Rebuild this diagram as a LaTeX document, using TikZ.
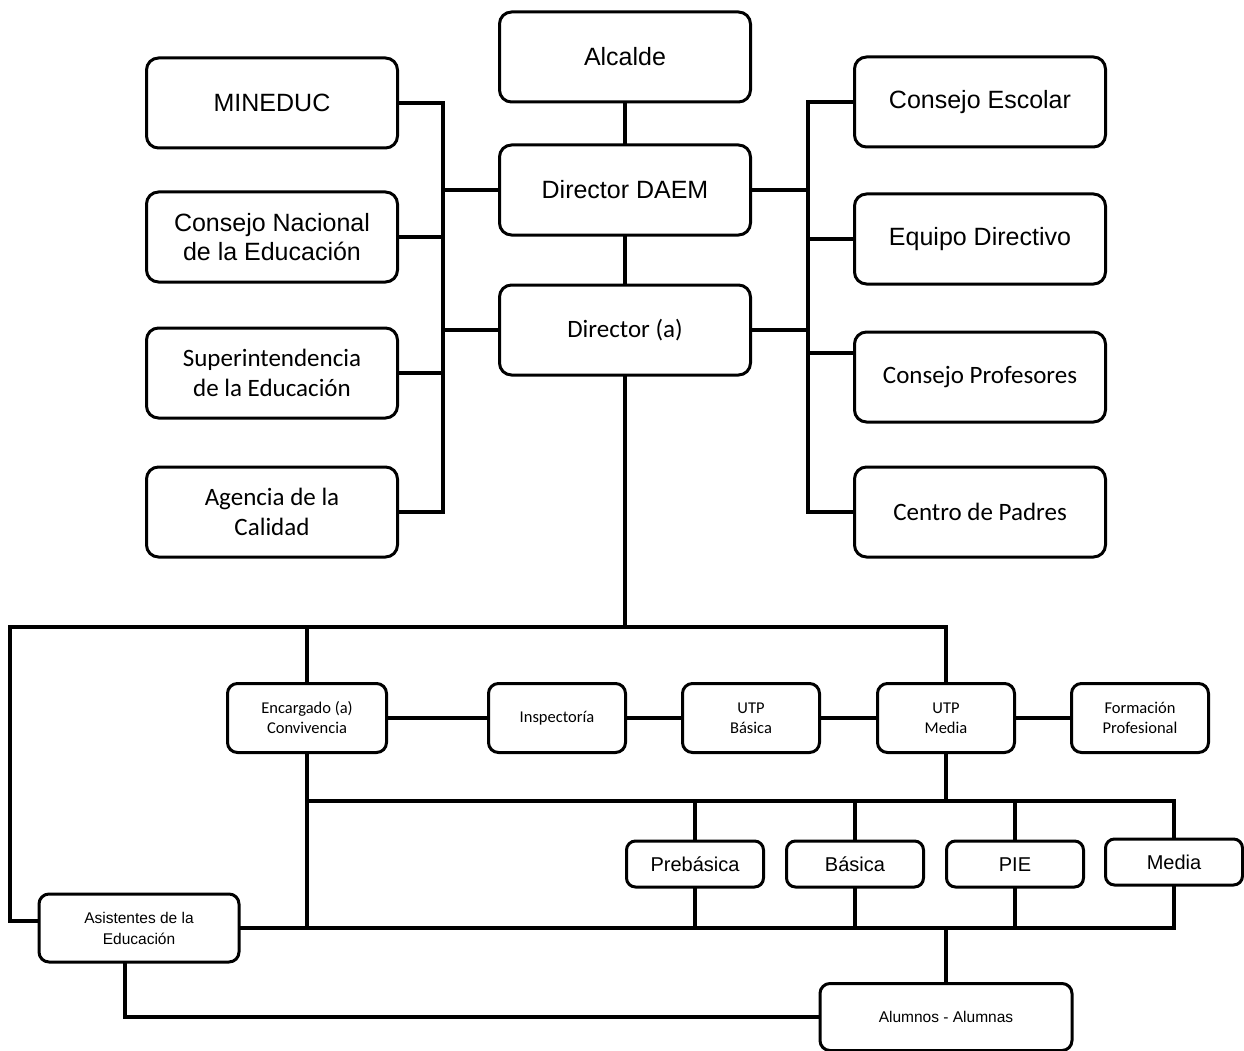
\documentclass[tikz,border=0pt]{standalone}
\usepackage{fontspec}
\usetikzlibrary{positioning}
\newfontfamily\arialf{Liberation Sans}
\newfontfamily\calf{Carlito}

\begin{document}
\begin{tikzpicture}
[x=1pt,y=-1pt,
 every node/.style={draw=black,line width=3pt,rounded corners=12pt,align=center,inner sep=0pt,outer sep=0pt},
 big/.style={minimum width=251pt,minimum height=90pt,font=\arialf\fontsize{25}{29}\selectfont},
 bigc/.style={big,font=\calf\fontsize{25}{30}\selectfont},
 unit/.style={minimum width=137pt,minimum height=69pt,rounded corners=10pt,font=\calf\fontsize{16.5}{20}\selectfont},
 lvl/.style={minimum width=137pt,minimum height=46pt,rounded corners=9pt,text height=19.5pt,text depth=4pt,font=\arialf\fontsize{20}{24}\selectfont},
 base/.style={unit,font=\arialf\fontsize{15.5}{21}\selectfont},
 conn/.style={line width=4pt}]
\useasboundingbox (0,0) rectangle (1244,1051);

\node[big]  (alc)  at (625,57)                                   {Alcalde};
\node[big]  (daem) [on grid,below=133pt of alc]                  {Director DAEM};
\node[bigc] (dir)  [on grid,below=140pt of daem]                 {Director (a)};
\node[big]  (min)  [on grid,below left=46pt and 353pt of alc]    {MINEDUC};
\node[big]  (cna)  [on grid,below=134pt of min]                  {Consejo Nacional\\de la Educación};
\node[bigc] (sup)  [on grid,below=136pt of cna]                  {Superintendencia\\de la Educación};
\node[bigc] (age)  [on grid,below=139pt of sup]                  {Agencia de la\\Calidad};
\node[big]  (ces)  [on grid,below right=45pt and 355pt of alc]   {Consejo Escolar};
\node[big]  (eqd)  [on grid,below=137pt of ces]                  {Equipo Directivo};
\node[bigc] (cpr)  [on grid,below=138pt of eqd]                  {Consejo Profesores};
\node[bigc] (cpa)  [on grid,below=135pt of cpr]                  {Centro de Padres};
\node[unit,minimum width=159pt] (enc) [on grid,below left=388pt and 318pt of dir] {Encargado (a)\\Convivencia};
\node[unit] (ins)  [on grid,right=250pt of enc]                  {Inspectoría};
\node[unit] (utb)  [on grid,right=194pt of ins]                  {UTP\\Básica};
\node[unit] (utm)  [on grid,right=195pt of utb]                  {UTP\\Media};
\node[unit] (fpr)  [on grid,right=194pt of utm]                  {Formación\\Profesional};
\node[lvl]  (pre)  [on grid,below left=146pt and 251pt of utm]   {Prebásica};
\node[lvl]  (bas)  [on grid,right=160pt of pre]                  {Básica};
\node[lvl]  (pie)  [on grid,right=160pt of bas]                  {PIE};
\node[lvl]  (med)  [on grid,above right=2pt and 159pt of pie]    {Media};
\node[base,minimum width=200pt,minimum height=68pt] (asi) [on grid,below left=64pt and 556pt of pre] {Asistentes de la\\Educación};
\node[base,minimum width=252pt,minimum height=67pt] (alu) [on grid,below=299pt of utm] {Alumnos - Alumnas};

\coordinate (lb)  at (443,0);
\coordinate (rb)  at (808,0);
\coordinate (lft) at (10,627);
\coordinate (mid) at (0,801);

\draw[conn] (alc) -- (daem);
\draw[conn] (daem) -- (dir);
% left column
\draw[conn] (min.east) -- (min.east -| lb) -- (age.east -| lb) -- (age.east);
\draw[conn] (cna.east) -- (cna.east -| lb);
\draw[conn] (sup.east) -- (sup.east -| lb);
\draw[conn] (daem.west) -- (daem.west -| lb);
\draw[conn] (dir.west) -- (dir.west -| lb);
% right column
\draw[conn] (ces.west) -- (ces.west -| rb) -- (cpa.west -| rb) -- (cpa.west);
\draw[conn] (eqd.west) -- (eqd.west -| rb);
\draw[conn] ([yshift=24pt]cpr.west) -- ([yshift=24pt]cpr.west -| rb);
\draw[conn] (daem.east) -- (daem.east -| rb);
\draw[conn] (dir.east) -- (dir.east -| rb);
% school
\draw[conn] (dir.south) -- (dir.south |- lft);
\draw[conn] ([yshift=7pt]asi.west) -| (lft) -- (lft -| utm.north) -- (utm.north);
\draw[conn] (enc.north) -- (enc.north |- lft);
\draw[conn] (enc) -- (ins);
\draw[conn] (ins) -- (utb);
\draw[conn] (utb) -- (utm);
\draw[conn] (utm) -- (fpr);
\draw[conn] (utm.south) -- (utm.south |- mid);
\draw[conn] (enc.south) -- (enc.south |- asi.east);
\draw[conn] (enc.south |- mid) -- (med.north |- mid) -- (med.north);
\draw[conn] (pre.north) -- (pre.north |- mid);
\draw[conn] (bas.north) -- (bas.north |- mid);
\draw[conn] (pie.north) -- (pie.north |- mid);
\draw[conn] (asi.east) -- (asi.east -| med.south) -- (med.south);
\draw[conn] (pre.south) -- (pre.south |- asi.east);
\draw[conn] (bas.south) -- (bas.south |- asi.east);
\draw[conn] (pie.south) -- (pie.south |- asi.east);
\draw[conn] (alu.north) -- (alu.north |- asi.east);
\draw[conn] ([xshift=-14pt]asi.south) |- (alu.west);
\end{tikzpicture}
\end{document}
